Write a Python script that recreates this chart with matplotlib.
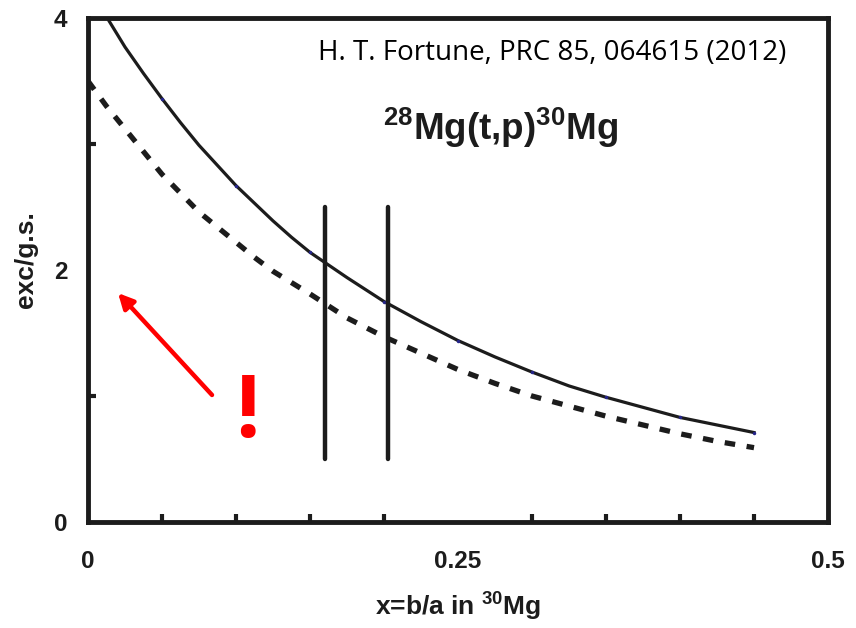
import matplotlib
matplotlib.use('Agg')
from matplotlib import pyplot as plt
import numpy as np

# b/a mixing parameter
x = [0, 0.0125, 0.025, 0.0375, 0.05, 0.0625, 0.075, 0.0875, 0.1, 0.1125,
     0.125, 0.1375, 0.15, 0.175, 0.2, 0.225, 0.25,
     0.275, 0.3, 0.325, 0.35, 0.375, 0.4, 0.425, 0.45]
# exc/g.s. ratio, solid curve
solid = [4.25, 4.01, 3.77, 3.56, 3.36, 3.17, 2.99, 2.83, 2.67, 2.53,
         2.39, 2.26, 2.14, 1.94, 1.75, 1.59, 1.44,
         1.31, 1.19, 1.08, 0.99, 0.91, 0.83, 0.77, 0.71]
# exc/g.s. ratio, dashed curve
dashed = [3.50, 3.30, 3.12, 2.94, 2.76, 2.61, 2.46, 2.34, 2.22, 2.10,
          1.99, 1.90, 1.81, 1.62, 1.47, 1.34, 1.21,
          1.10, 1.00, 0.92, 0.84, 0.77, 0.70, 0.64, 0.59]
# small dots on the solid curve
dot_x = [0.05, 0.1, 0.15, 0.2, 0.25, 0.3, 0.35, 0.4, 0.45]
dot_y = [3.36, 2.67, 2.14, 1.75, 1.44, 1.19, 0.99, 0.83, 0.71]
# allowed range of x (vertical bars)
bar_x = [0.16, 0.203]
bar_lo, bar_hi = 0.5, 2.5

xticks = [0, 0.25, 0.5]
xticklabels = ['0', '0.25', '0.5']
yticks = [0, 2, 4]
yticklabels = ['0', '2', '4']

ink = '#1c1c1c'
plt.rcParams['font.family'] = 'Liberation Sans'
plt.rcParams['mathtext.fontset'] = 'custom'
plt.rcParams['mathtext.rm'] = 'Liberation Sans'
plt.rcParams['mathtext.bf'] = 'Liberation Sans:bold'

fig = plt.figure(figsize=(8.56, 6.28), dpi=100)
ax = fig.add_axes([0.1028, 0.1688, 0.8645, 0.8025])

ax.plot(x, solid, color=ink, lw=2.3, solid_joinstyle='round')
ax.plot(dot_x, dot_y, 'o', color='#25258a', ms=2.5, mec='none')
ax.plot(x, dashed, color=ink, lw=3.8, dashes=(2.0, 2.2))
for bx in bar_x:
    ax.plot([bx, bx], [bar_lo, bar_hi], color=ink, lw=3.2, solid_capstyle='round')

ax.set_xlim(0, 0.5)
ax.set_ylim(0, 4)
ax.set_xticks(xticks)
ax.set_xticklabels(xticklabels)
ax.set_xticks(np.arange(0.05, 0.5, 0.05), minor=True)
ax.set_yticks(yticks)
ax.set_yticklabels(yticklabels)
ax.set_yticks([1, 3], minor=True)
ax.tick_params(which='both', direction='in', color=ink, width=3, length=6,
               labelsize=17.5, labelcolor=ink, pad=20)
ax.tick_params(axis='y', pad=15)
ax.tick_params(which='major', length=0)
for lab in ax.get_xticklabels() + ax.get_yticklabels():
    lab.set_fontweight('bold')
for s in ax.spines.values():
    s.set_linewidth(3.5)
    s.set_color(ink)

ax.set_xlabel(r'x=b/a in $^{\mathbf{30}}$Mg', fontsize=19, fontweight='bold',
              color=ink, labelpad=12)
ax.set_ylabel('exc/g.s.', fontsize=19, fontweight='bold', color=ink)
ax.yaxis.set_label_coords(-0.068, 0.52)

ax.text(0.3135, 3.72, 'H. T. Fortune, PRC 85, 064615 (2012)', fontsize=20,
        family='Open Sans', ha='center', va='center', color='black')
ax.text(0.279, 3.03, r'$^{\mathbf{28}}$Mg(t,p)$^{\mathbf{30}}$Mg', fontsize=26.5,
        fontweight='bold', ha='center', va='baseline', color=ink)

ax.annotate('', xy=(0.0203, 1.817), xytext=(0.0838, 1.008),
            arrowprops=dict(arrowstyle='-|>,head_length=0.9,head_width=0.45',
                            color='#ff0000', lw=3.2, shrinkA=0, shrinkB=0))
ax.text(0.1074, 0.675, '!', fontsize=62, fontweight='bold', family='Open Sans',
        color='#ff0000', ha='center', va='baseline')

fig.savefig('out.png', dpi=100)
